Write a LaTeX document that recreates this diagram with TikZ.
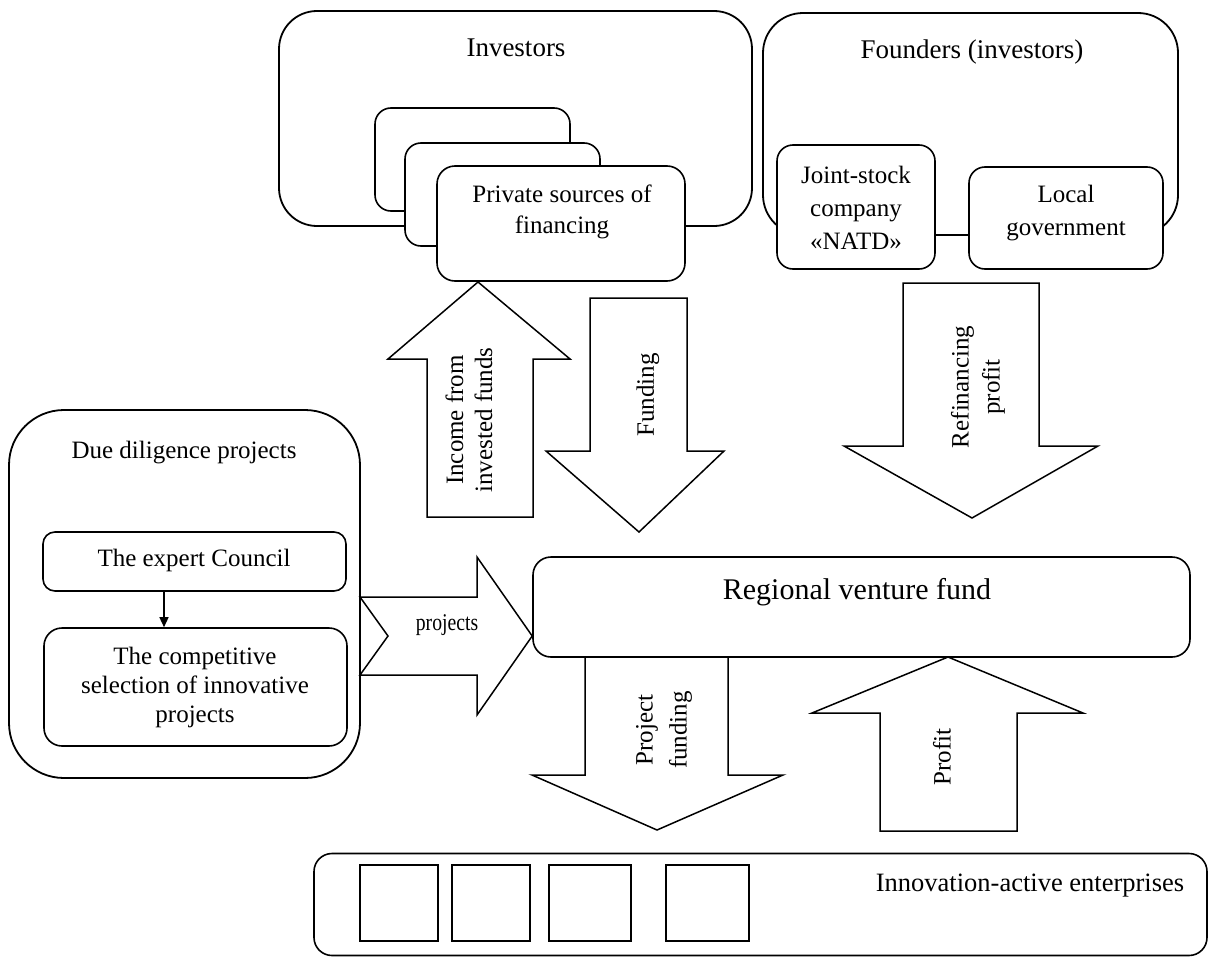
\documentclass[tikz,border=0pt]{standalone}
\usepackage{fontspec}
\setmainfont{Liberation Serif}
\usepackage{graphicx}
\usetikzlibrary{arrows.meta}
\tikzset{
  bigbox/.style={draw, line width=1.8pt, fill=white, rounded corners=#1, inner sep=0pt},
  smallbox/.style={draw, line width=1.6pt, fill=white, rounded corners=#1, inner sep=0pt},
  sqbox/.style={draw, line width=1.6pt, fill=white, inner sep=0pt},
  blockarrow/.style={draw, line width=1.5pt, fill=white, line join=miter},
  txt/.style={font=\fontsize{25}{31}\selectfont, align=center, inner sep=0pt},
  rtxt/.style={txt, rotate=90},
}
\begin{document}
\begin{tikzpicture}[x=1pt, y=-1pt]
\useasboundingbox (0,0) rectangle (1209,958);

% Investors group
\node[bigbox=38pt, minimum width=473pt, minimum height=215pt] (investors) at (515.5,118.5) {};
\node[txt, font=\fontsize{27}{32}\selectfont] (investorsT) at (516,48) {Investors};
\node[smallbox=16pt, minimum width=195pt, minimum height=103pt] (stackA) at (472.5,159.5) {};
\node[smallbox=16pt, minimum width=195pt, minimum height=103pt] (stackB) at (502.5,194.5) {};
\node[smallbox=18pt, minimum width=248pt, minimum height=115pt] (private) at (561,223.5) {};
\node[txt] (privateT) at (562,211.5) {Private sources of\\financing};

% Founders group (its lower edge is the line joining the two founders)
\node[bigbox=40pt, minimum width=415pt, minimum height=222pt] (founders) at (970.5,124) {};
\node[txt, font=\fontsize{27}{32}\selectfont] (foundersT) at (972,52) {Founders (investors)};
\node[smallbox=16pt, minimum width=158pt, minimum height=124pt] (joint) at (856,207) {};
\node[txt, font=\fontsize{25}{33}\selectfont] (jointT) at (856,208) {Joint-stock\\company\\«NATD»};
\node[smallbox=16pt, minimum width=194pt, minimum height=102pt] (local) at (1066,218) {};
\node[txt, font=\fontsize{25}{33}\selectfont] (localT) at (1066,213.5) {Local\\government};

% Due diligence group
\node[bigbox=55pt, minimum width=351pt, minimum height=368pt] (due) at (184.5,594) {};
\node[txt] (dueT) at (184,453) {Due diligence projects};
\node[smallbox=12pt, minimum width=303pt, minimum height=59pt] (expert) at (194.5,561.5) {};
\node[txt] (expertT) at (194,560) {The expert Council};
\node[smallbox=18pt, minimum width=303pt, minimum height=118pt] (select) at (195.5,687) {};
\node[txt, font=\fontsize{25}{29}\selectfont] (selectT) at (195,687) {The competitive\\selection of innovative\\projects};
\draw[line width=1.4pt, -{Triangle[length=10pt, width=9pt]}] (expert.south -| 164,0) -- (select.north -| 164,0);

% Regional venture fund
\node[smallbox=18pt, minimum width=657pt, minimum height=100pt] (rvf) at (861.5,607) {};
\node[txt, font=\fontsize{30}{36}\selectfont] (rvfT) at (857,592) {Regional venture fund};

% Innovation-active enterprises
\node[smallbox=18pt, minimum width=893pt, minimum height=102pt] (inno) at (760.5,904.5) {};
\node[txt, font=\fontsize{26.5}{31}\selectfont] (innoT) at (1030,886) {Innovation-active enterprises};
\node[sqbox, minimum width=78pt, minimum height=76pt] (e1) at (399,903) {};
\node[sqbox, minimum width=78pt, minimum height=76pt] (e2) at (491,903) {};
\node[sqbox, minimum width=82pt, minimum height=76pt] (e3) at (590,903) {};
\node[sqbox, minimum width=83pt, minimum height=76pt] (e4) at (707.5,903) {};

% Block arrows
% Income from invested funds (up)
\draw[blockarrow] (427,517) -- (427,359) -- (388,359) -- (478,282) -- (570,359) -- (533,359) -- (533,517) -- cycle;
\node[rtxt, font=\fontsize{25}{29}\selectfont] (incomeT) at (469,420) {Income from\\invested funds};
% Funding (down)
\draw[blockarrow] (590,298) -- (687,298) -- (687,451) -- (724,451) -- (639,532) -- (546,451) -- (590,451) -- cycle;
\node[rtxt] (fundingT) at (648,395) {Funding};
% Refinancing profit (down)
\draw[blockarrow] (903,283) -- (1039,283) -- (1039,446) -- (1098,446) -- (972,518) -- (844,446) -- (903,446) -- cycle;
\node[rtxt] (refinT) at (978,387) {Refinancing\\profit};
% projects (right, notched)
\draw[blockarrow] (360,597) -- (477,597) -- (477,557) -- (rvf.west |- 0,636) -- (477,715) -- (477,675) -- (360,675) -- (388,636) -- cycle;
\node[txt, font=\fontsize{24}{29}\selectfont] (projectsT) at (447,625) {\scalebox{0.82}[1]{projects}};
% Project funding (down)
\draw[blockarrow] (585,657) -- (728,657) -- (728,775) -- (783,775) -- (657,830) -- (532,775) -- (585,775) -- cycle;
\node[rtxt, font=\fontsize{25}{34}\selectfont] (pfundT) at (664,730) {Project\\funding};
% Profit (up)
\draw[blockarrow] (880,831) -- (880,713) -- (812,713) -- (948,657) -- (1083,713) -- (1017,713) -- (1017,831) -- cycle;
\node[rtxt] (profitT) at (942,757) {Profit};
\end{tikzpicture}
\end{document}
